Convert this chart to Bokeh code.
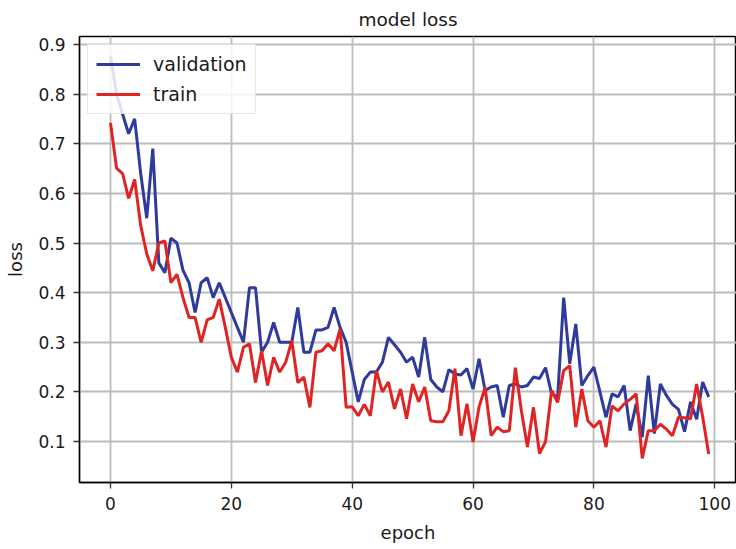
from bokeh.plotting import figure
from bokeh.models import Range1d, FixedTicker, Legend, LegendItem
from bokeh.embed import file_html
from bokeh.resources import INLINE

epochs = list(range(100))

validation = [
    0.876, 0.80, 0.76, 0.72, 0.75, 0.64, 0.55, 0.69, 0.46, 0.44,
    0.51, 0.50, 0.445, 0.42, 0.36, 0.42, 0.43, 0.39, 0.42, 0.39,
    0.36, 0.33, 0.30, 0.41, 0.41, 0.28, 0.30, 0.34, 0.30, 0.30,
    0.30, 0.37, 0.28, 0.28, 0.325, 0.325, 0.33, 0.37, 0.33, 0.30,
    0.24, 0.18, 0.225, 0.24, 0.24, 0.26, 0.31, 0.295, 0.28, 0.26,
    0.27, 0.23, 0.31, 0.225, 0.21, 0.20, 0.245, 0.236, 0.234, 0.247,
    0.206, 0.267, 0.203, 0.21, 0.213, 0.149, 0.213, 0.216, 0.21, 0.213,
    0.23, 0.227, 0.249, 0.196, 0.19, 0.39, 0.257, 0.337, 0.213, 0.233,
    0.25, 0.20, 0.149, 0.196, 0.19, 0.213, 0.122, 0.176, 0.109, 0.233,
    0.116, 0.216, 0.193, 0.175, 0.165, 0.12, 0.18, 0.145, 0.22, 0.19,
]

train = [
    0.742, 0.651, 0.64, 0.59, 0.628, 0.535, 0.478, 0.444, 0.50, 0.504,
    0.42, 0.437, 0.39, 0.35, 0.35, 0.30, 0.345, 0.35, 0.387, 0.33,
    0.27, 0.24, 0.29, 0.297, 0.219, 0.283, 0.213, 0.27, 0.24, 0.26,
    0.303, 0.219, 0.23, 0.169, 0.28, 0.283, 0.297, 0.283, 0.327, 0.169,
    0.17, 0.152, 0.175, 0.152, 0.243, 0.20, 0.22, 0.166, 0.206, 0.146,
    0.216, 0.18, 0.21, 0.142, 0.14, 0.14, 0.162, 0.247, 0.112, 0.176,
    0.099, 0.17, 0.209, 0.112, 0.129, 0.12, 0.122, 0.249, 0.162, 0.089,
    0.169, 0.076, 0.10, 0.203, 0.179, 0.243, 0.253, 0.129, 0.206, 0.142,
    0.129, 0.142, 0.089, 0.172, 0.162, 0.176, 0.185, 0.196, 0.066, 0.122,
    0.122, 0.135, 0.125, 0.112, 0.149, 0.148, 0.146, 0.216, 0.15, 0.075,
]

x_ticks = [0, 20, 40, 60, 80, 100]
y_ticks = [0.1, 0.2, 0.3, 0.4, 0.5, 0.6, 0.7, 0.8, 0.9]

FONT = "DejaVu Sans"
TXT = "#1a1a1a"

p = figure(width=736, height=549, output_backend="svg", toolbar_location=None,
           x_range=Range1d(-5.13, 103.6), y_range=Range1d(0.0176, 0.916),
           min_border_left=79, min_border_right=0, min_border_top=35,
           min_border_bottom=67)

p.title.text = "model loss"
p.title.align = "center"
p.title.text_font = FONT
p.title.text_font_size = "18.5px"
p.title.text_font_style = "normal"
p.title.text_color = TXT
p.title.standoff = 13

p.outline_line_color = "black"
p.outline_line_width = 1.4

p.xaxis.ticker = FixedTicker(ticks=x_ticks)
p.yaxis.ticker = FixedTicker(ticks=y_ticks)
p.xaxis.axis_label = "epoch"
p.yaxis.axis_label = "loss"
for ax in (p.xaxis, p.yaxis):
    ax.axis_label_text_font = FONT
    ax.axis_label_text_font_size = "18px"
    ax.axis_label_text_font_style = "normal"
    ax.axis_label_text_color = TXT
    ax.major_label_text_font = FONT
    ax.major_label_text_font_size = "17px"
    ax.major_label_text_color = TXT
    ax.minor_tick_line_color = None
    ax.major_tick_out = 6
    ax.major_tick_in = 0
    ax.major_tick_line_color = "#333333"
    ax.major_tick_line_width = 1.3
    ax.axis_line_color = "black"
    ax.axis_line_width = 1.4
    ax.major_label_standoff = 8
    ax.axis_label_standoff = 9

p.grid.grid_line_color = "#bcbcbc"
p.grid.grid_line_width = 1.8

rv = p.line(epochs, validation, line_color="#2e3b9c", line_width=3)
rt = p.line(epochs, train, line_color="#e02424", line_width=3)

legend = Legend(items=[LegendItem(label="validation", renderers=[rv]),
                       LegendItem(label="train", renderers=[rt])],
                location="top_left")
legend.margin = 8
legend.padding = 8
legend.spacing = 8
legend.glyph_width = 44
legend.label_standoff = 13
legend.label_text_font = FONT
legend.label_text_font_size = "19px"
legend.label_text_color = TXT
legend.border_line_color = "#d0d0d0"
legend.background_fill_alpha = 0.85
p.add_layout(legend, "center")

open("out.html", "w").write(file_html(p, INLINE))
